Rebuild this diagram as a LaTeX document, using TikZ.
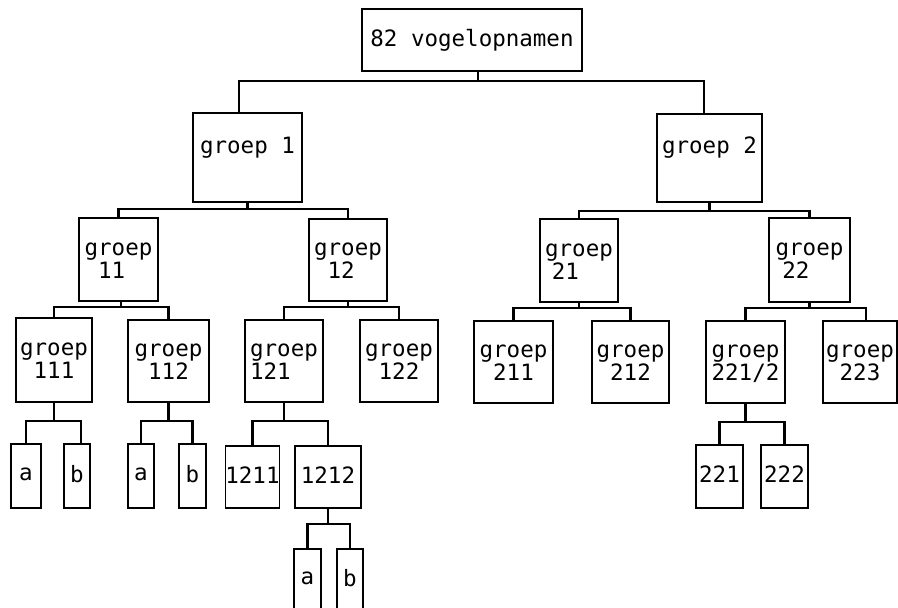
\documentclass[tikz,border=0pt]{standalone}
\usepackage{fontspec}
\setmonofont{DejaVu Sans Mono}
\newcommand\mst{\rule[-3pt]{0pt}{20pt}}
\newcommand\sst{\rule[-4pt]{0pt}{17pt}}
\newcommand\mybracket[4]{%
  \draw[conn] (#1) -- (#1 |- #2);
  \draw[conn] (#3) -- (#3 |- #2) -- (#4 |- #2) -- (#4);}
\begin{document}
\begin{tikzpicture}[x=1pt,y=-1pt,
  box/.style={draw, line width=1.2pt, inner sep=0pt, align=center,
    font=\ttfamily\fontsize{22.5}{23}\selectfont},
  conn/.style={line width=2.4pt, line cap=rect}]
\clip (0,0) rectangle (898,608);
\fill[white] (0,0) rectangle (898,608);
% level 0
\node[box, minimum width=220pt, minimum height=62pt] (root) at (472,40) {\sst 82 vogelopnamen};
% level 1
\node[box, minimum width=109pt, minimum height=89pt] (g1) at (247.5,157.5) {\mst groep 1\\\mst};
\node[box, minimum width=105pt, minimum height=88pt] (g2) at (709.5,158) {\mst groep 2\\\mst};
% level 2
\node[box, minimum width=79pt, minimum height=83pt] (g11) at (118.5,259.5) {\mst groep\\11\phantom{0}\mst};
\node[box, minimum width=78pt, minimum height=82pt] (g12) at (348,260) {\mst groep\\12\phantom{0}\mst};
\node[box, minimum width=78pt, minimum height=83pt] (g21) at (579,260.5) {\mst groep\\21\phantom{00}\mst};
\node[box, minimum width=81pt, minimum height=84pt] (g22) at (809.5,260) {\mst groep\\22\phantom{00}\mst};
% level 3
\node[box, minimum width=76pt, minimum height=84pt] (g111) at (54,360) {\mst groep\\111\mst};
\node[box, minimum width=81pt, minimum height=82pt] (g112) at (168.5,361) {\mst groep\\112\mst};
\node[box, minimum width=78pt, minimum height=82pt] (g121) at (284,361) {\mst groep\\121\phantom{00}\mst};
\node[box, minimum width=78pt, minimum height=82pt] (g122) at (399,361) {\mst groep\\122\mst};
\node[box, minimum width=79pt, minimum height=82pt] (g211) at (513.5,362) {\mst groep\\211\mst};
\node[box, minimum width=77pt, minimum height=82pt] (g212) at (630.5,362) {\mst groep\\212\mst};
\node[box, minimum width=79pt, minimum height=82pt] (g2212) at (745.5,362) {\mst groep\\221/2\mst};
\node[box, minimum width=74pt, minimum height=82pt] (g223) at (860,362) {\mst groep\\223\mst};
% level 4
\node[box, minimum width=30pt, minimum height=64pt] (a111) at (26,476) {\sst a};
\node[box, minimum width=26pt, minimum height=64pt] (b111) at (77,476) {\sst b};
\node[box, minimum width=26pt, minimum height=64pt] (a112) at (141,476) {\sst a};
\node[box, minimum width=27pt, minimum height=64pt] (b112) at (192.5,476) {\sst b};
\node[box, minimum width=53pt, minimum height=62pt] (n1211) at (252.5,477) {\sst 1211};
\node[box, minimum width=66pt, minimum height=62pt] (n1212) at (328,477) {\sst 1212};
\node[box, minimum width=47pt, minimum height=63pt] (n221) at (719.5,476.5) {\sst 221};
\node[box, minimum width=47pt, minimum height=63pt] (n222) at (784.5,476.5) {\sst 222};
% level 5
\node[box, minimum width=27pt, minimum height=62pt] (a1212) at (307.5,580) {\sst a};
\node[box, minimum width=26pt, minimum height=62pt] (b1212) at (350,580) {\sst b};
% levels of the horizontal bars
\coordinate (L0) at (0,81);
\coordinate (L1a) at (0,209);
\coordinate (L1b) at (0,211);
\coordinate (L2a) at (0,307);
\coordinate (L2b) at (0,308);
\coordinate (L3a) at (0,421);
\coordinate (L3b) at (0,422);
\coordinate (L4) at (0,524);
% shifted attachment points
\coordinate (rs) at ([xshift=6pt]root.south);
\coordinate (g1t) at ([xshift=-8.5pt]g1.north);
\coordinate (g2t) at ([xshift=-5.5pt]g2.north);
\coordinate (g223t) at ([xshift=6pt]g223.north);
\coordinate (b111t) at ([xshift=4pt]b111.north);
\coordinate (g11s) at ([xshift=2.5pt]g11.south);
% connectors
\mybracket{rs}{L0}{g1t}{g2t}
\mybracket{g1.south}{L1a}{g11.north}{g12.north}
\mybracket{g2.south}{L1b}{g21.north}{g22.north}
\mybracket{g11s}{L2a}{g111.north}{g112.north}
\mybracket{g12.south}{L2a}{g121.north}{g122.north}
\mybracket{g21.south}{L2b}{g211.north}{g212.north}
\mybracket{g22.south}{L2b}{g2212.north}{g223t}
\mybracket{g111.south}{L3a}{a111.north}{b111t}
\mybracket{g112.south}{L3a}{a112.north}{b112.north}
\mybracket{g121.south}{L3a}{n1211.north}{n1212.north}
\mybracket{g2212.south}{L3b}{n221.north}{n222.north}
\mybracket{n1212.south}{L4}{a1212.north}{b1212.north}
\end{tikzpicture}
\end{document}
